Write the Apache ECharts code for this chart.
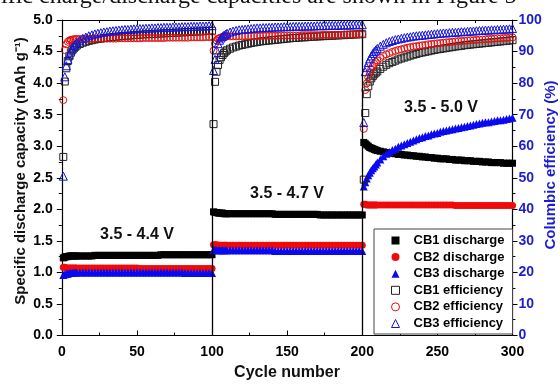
<!DOCTYPE html>
<html><head><meta charset="utf-8">
<script src="https://cdn.jsdelivr.net/npm/echarts@6/dist/echarts.min.js"></script>
<style>html,body{margin:0;padding:0;background:#fff}#c{width:560px;height:384px}</style>
</head><body><div id="c"></div>
<script>
// Cycle numbers within each 100-cycle voltage window, and the window offsets
const segCycles = [1,2,3,4,5,6,7,8,9,10,12,14,16,18,20,22,24,26,28,30,32,34,36,38,40,42,44,46,48,50,52,54,56,58,60,62,64,66,68,70,72,74,76,78,80,82,84,86,88,90,92,94,96,98,100];
const segOffsets = [0, 100, 200];
const xTicks = [0, 50, 100, 150, 200, 250, 300];
const windowLabels = ['3.5 - 4.4 V', '3.5 - 4.7 V', '3.5 - 5.0 V'];
const seriesNames = ['CB1 discharge','CB2 discharge','CB3 discharge','CB1 efficiency','CB2 efficiency','CB3 efficiency'];

// Specific discharge capacity (mAh g-1), 55 values per window
const cb1Discharge = [
 1.23,1.24,1.25,1.25,1.26,1.26,1.26,1.26,1.26,1.26,
 1.26,1.26,1.26,1.26,1.26,1.27,1.27,1.27,1.27,1.27,1.27,1.27,1.27,1.27,1.27,1.27,1.27,1.27,1.27,1.27,1.27,1.27,1.27,1.27,1.27,1.27,1.27,1.28,1.28,1.28,1.28,1.28,1.28,1.28,1.28,1.28,1.28,1.28,1.28,1.28,1.28,1.28,1.28,1.28,1.28,
 1.96,1.95,1.95,1.94,1.94,1.94,1.94,1.93,1.93,1.93,
 1.93,1.93,1.93,1.93,1.93,1.93,1.93,1.93,1.93,1.93,1.93,1.93,1.93,1.93,1.93,1.92,1.92,1.92,1.92,1.92,1.92,1.92,1.92,1.92,1.92,1.92,1.92,1.92,1.92,1.92,1.91,1.91,1.91,1.91,1.91,1.91,1.91,1.91,1.91,1.91,1.91,1.91,1.91,1.91,1.91,
 3.06,3.04,3.02,3.00,2.98,2.97,2.96,2.95,2.94,2.93,
 2.92,2.91,2.90,2.89,2.89,2.88,2.87,2.87,2.86,2.86,2.85,2.85,2.84,2.84,2.83,2.83,2.82,2.82,2.81,2.81,2.80,2.80,2.80,2.79,2.79,2.78,2.78,2.78,2.77,2.77,2.77,2.76,2.76,2.76,2.75,2.75,2.75,2.74,2.74,2.74,2.74,2.73,2.73,2.73,2.73
];
const cb2Discharge = [
 1.08,1.08,1.07,1.07,1.07,1.07,1.07,1.07,1.07,1.07,
 1.07,1.07,1.07,1.07,1.07,1.07,1.07,1.07,1.07,1.07,1.07,1.07,1.07,1.07,1.07,1.07,1.07,1.07,1.07,1.07,1.06,1.06,1.06,1.06,1.06,1.06,1.06,1.06,1.06,1.06,1.06,1.06,1.06,1.06,1.06,1.06,1.06,1.06,1.06,1.06,1.06,1.06,1.06,1.06,1.06,
 1.44,1.44,1.44,1.43,1.43,1.43,1.43,1.43,1.43,1.43,
 1.43,1.43,1.43,1.43,1.43,1.43,1.43,1.43,1.43,1.43,1.43,1.43,1.43,1.43,1.43,1.43,1.43,1.43,1.43,1.43,1.43,1.43,1.43,1.43,1.43,1.43,1.43,1.43,1.43,1.43,1.43,1.43,1.43,1.43,1.43,1.43,1.43,1.43,1.43,1.43,1.43,1.43,1.43,1.43,1.43,
 2.08,2.08,2.07,2.07,2.07,2.07,2.07,2.07,2.07,2.07,
 2.07,2.07,2.07,2.07,2.07,2.07,2.07,2.07,2.07,2.07,2.07,2.07,2.07,2.07,2.07,2.07,2.07,2.07,2.07,2.07,2.07,2.07,2.07,2.07,2.07,2.06,2.06,2.06,2.06,2.06,2.06,2.06,2.06,2.06,2.06,2.06,2.06,2.06,2.06,2.06,2.06,2.06,2.06,2.06,2.06
];
const cb3Discharge = [
 0.96,0.97,0.98,0.98,0.99,0.99,0.99,1.00,1.00,1.00,
 1.00,1.00,1.00,1.00,1.00,1.00,1.00,1.00,1.00,1.00,1.00,1.00,1.00,1.00,1.00,1.00,1.00,1.00,1.00,1.00,1.00,1.00,1.00,1.00,1.00,1.00,1.00,1.00,1.00,1.00,1.00,1.00,1.00,1.00,1.00,0.99,0.99,0.99,0.99,0.99,0.99,0.99,0.99,0.99,0.99,
 1.36,1.36,1.35,1.35,1.35,1.35,1.35,1.35,1.35,1.35,
 1.35,1.35,1.35,1.35,1.35,1.35,1.35,1.35,1.35,1.35,1.35,1.35,1.35,1.35,1.35,1.34,1.34,1.34,1.34,1.34,1.34,1.34,1.34,1.34,1.34,1.34,1.34,1.34,1.34,1.34,1.34,1.34,1.34,1.34,1.34,1.34,1.34,1.34,1.34,1.34,1.34,1.34,1.34,1.34,1.34,
 2.36,2.43,2.49,2.54,2.58,2.62,2.65,2.68,2.71,2.74,
 2.79,2.84,2.88,2.91,2.94,2.96,2.99,3.01,3.03,3.05,3.07,3.09,3.11,3.13,3.14,3.16,3.17,3.19,3.20,3.21,3.23,3.24,3.25,3.26,3.27,3.28,3.29,3.30,3.31,3.32,3.33,3.34,3.35,3.36,3.37,3.38,3.38,3.39,3.40,3.41,3.41,3.42,3.43,3.44,3.45
];
// Columbic efficiency (%), 55 values per window
const cb1Efficiency = [
 56.6,80.5,84.7,87.0,88.5,89.6,90.4,91.0,91.5,91.9,
 92.4,92.8,93.1,93.4,93.6,93.8,94.0,94.1,94.3,94.4,94.5,94.6,94.7,94.8,94.9,95.0,95.0,95.1,95.2,95.3,95.3,95.4,95.5,95.5,95.6,95.6,95.7,95.7,95.8,95.8,95.9,95.9,96.0,96.0,96.1,96.1,96.2,96.2,96.3,96.3,96.4,96.4,96.5,96.5,96.6,
 67.0,80.4,83.6,85.7,87.3,88.2,88.9,89.5,90.0,90.4,
 90.9,91.3,91.6,91.9,92.1,92.3,92.5,92.7,92.9,93.0,93.2,93.3,93.4,93.5,93.6,93.7,93.8,93.9,94.0,94.1,94.2,94.3,94.3,94.4,94.5,94.5,94.6,94.7,94.7,94.8,94.8,94.9,94.9,95.0,95.0,95.1,95.1,95.2,95.2,95.3,95.3,95.4,95.4,95.5,95.5,
 49.4,70.5,76.5,79.0,80.5,81.5,82.2,82.8,83.3,83.7,
 84.5,85.2,85.8,86.3,86.7,87.1,87.5,87.8,88.1,88.4,88.7,89.0,89.2,89.5,89.7,89.9,90.1,90.3,90.5,90.7,90.8,91.0,91.1,91.3,91.4,91.6,91.7,91.8,92.0,92.1,92.2,92.3,92.4,92.5,92.6,92.7,92.8,92.9,93.0,93.1,93.2,93.3,93.4,93.5,93.6
];
const cb2Efficiency = [
 74.6,90.5,92.3,93.1,93.5,93.7,93.8,93.9,93.9,94.0,
 94.0,94.0,94.0,94.0,94.0,94.1,94.1,94.1,94.1,94.1,94.1,94.1,94.1,94.2,94.2,94.2,94.2,94.2,94.2,94.2,94.2,94.3,94.3,94.3,94.3,94.3,94.3,94.3,94.3,94.4,94.4,94.4,94.4,94.4,94.4,94.4,94.4,94.5,94.5,94.5,94.5,94.5,94.6,94.6,94.6,
 90.3,92.5,93.5,94.0,94.3,94.5,94.6,94.7,94.7,94.8,
 94.8,94.8,94.8,94.8,94.8,94.9,94.9,94.9,94.9,94.9,94.9,95.0,95.0,95.0,95.0,95.0,95.0,95.1,95.1,95.1,95.1,95.1,95.1,95.1,95.2,95.2,95.2,95.2,95.2,95.2,95.2,95.3,95.3,95.3,95.3,95.3,95.3,95.3,95.4,95.4,95.4,95.4,95.5,95.5,95.5,
 65.5,77.8,79.9,81.8,83.3,84.5,85.4,86.1,86.7,87.2,
 88.0,88.6,89.1,89.5,89.9,90.2,90.5,90.7,91.0,91.2,91.4,91.6,91.7,91.9,92.0,92.1,92.3,92.4,92.5,92.6,92.7,92.8,92.9,93.0,93.1,93.2,93.3,93.3,93.4,93.5,93.6,93.6,93.7,93.8,93.8,93.9,94.0,94.0,94.1,94.2,94.2,94.3,94.3,94.4,94.5
];
const cb3Efficiency = [
 50.5,82.0,85.5,87.5,89.0,90.2,91.1,91.8,92.4,92.9,
 93.6,94.2,94.6,95.0,95.3,95.6,95.8,96.0,96.2,96.3,96.5,96.6,96.7,96.8,96.9,97.0,97.0,97.1,97.2,97.2,97.3,97.3,97.4,97.4,97.5,97.5,97.6,97.6,97.7,97.7,97.7,97.8,97.8,97.8,97.9,97.9,97.9,98.0,98.0,98.0,98.1,98.1,98.1,98.2,98.2,
 84.0,87.5,90.5,92.5,93.6,94.3,94.8,95.2,95.5,95.8,
 96.2,96.5,96.7,96.9,97.0,97.1,97.2,97.3,97.4,97.5,97.5,97.6,97.6,97.7,97.7,97.8,97.8,97.8,97.9,97.9,97.9,98.0,98.0,98.0,98.0,98.1,98.1,98.1,98.1,98.2,98.2,98.2,98.2,98.3,98.3,98.3,98.3,98.4,98.4,98.4,98.4,98.5,98.5,98.5,98.5,
 67.5,83.6,85.0,86.5,87.7,88.6,89.4,90.0,90.5,91.0,
 91.7,92.3,92.8,93.2,93.5,93.8,94.0,94.2,94.4,94.6,94.7,94.9,95.0,95.1,95.2,95.3,95.4,95.5,95.6,95.7,95.8,95.9,95.9,96.0,96.1,96.1,96.2,96.3,96.3,96.4,96.5,96.5,96.6,96.7,96.7,96.8,96.8,96.9,96.9,97.0,97.0,97.1,97.1,97.2,97.3
];

function toPoints(vals) {
  const out = [];
  segOffsets.forEach((off, s) => {
    segCycles.forEach((c, i) => out.push([off + c, vals[s * segCycles.length + i]]));
  });
  return out;
}

const BLACK = '#000000', RED = '#f00a0a', BLUE = '#0a0af0', AXBLUE = '#1c1cd0';
const tickFont = { fontFamily: 'Arial, Liberation Sans, sans-serif', fontWeight: 'bold', fontSize: 14 };

function filled(name, vals, symbol, color, size, yIndex) {
  return { name, type: 'scatter', yAxisIndex: yIndex, data: toPoints(vals), symbol, symbolSize: size,
    symbolKeepAspect: true,
    itemStyle: { color, opacity: 1 }, emphasis: { disabled: true }, silent: true };
}
function hollow(name, vals, symbol, color, size) {
  return { name, type: 'scatter', yAxisIndex: 1, data: toPoints(vals), symbol, symbolSize: size,
    symbolKeepAspect: true,
    itemStyle: { color: 'rgba(255,255,255,0)', borderColor: color, borderWidth: 1, opacity: 1 },
    emphasis: { disabled: true }, silent: true };
}

const series = [
  filled(seriesNames[0], cb1Discharge, 'rect', BLACK, 7, 0),
  filled(seriesNames[1], cb2Discharge, 'circle', RED, 7, 0),
  filled(seriesNames[2], cb3Discharge, 'triangle', BLUE, 8, 0),
  hollow(seriesNames[3], cb1Efficiency, 'rect', '#222', 7),
  hollow(seriesNames[4], cb2Efficiency, 'circle', '#e01010', 7),
  hollow(seriesNames[5], cb3Efficiency, 'triangle', '#1515d8', 8)
];
series[0].markLine = { silent: true, symbol: ['none','none'], label: { show: false },
  lineStyle: { color: '#000', width: 1.3, type: 'solid' },
  data: [{ xAxis: xTicks[2] }, { xAxis: xTicks[4] }] };

const legendIcons = {
  'CB1 discharge': { icon: 'rect', itemStyle: { color: BLACK } },
  'CB2 discharge': { icon: 'circle', itemStyle: { color: RED } },
  'CB3 discharge': { icon: 'triangle', itemStyle: { color: BLUE } },
  'CB1 efficiency': { icon: 'rect', itemStyle: { color: 'rgba(255,255,255,0)', borderColor: '#222', borderWidth: 1 } },
  'CB2 efficiency': { icon: 'circle', itemStyle: { color: 'rgba(255,255,255,0)', borderColor: '#e01010', borderWidth: 1 } },
  'CB3 efficiency': { icon: 'triangle', itemStyle: { color: 'rgba(255,255,255,0)', borderColor: '#1515d8', borderWidth: 1 } }
};

const chart = echarts.init(document.getElementById('c'), null, { renderer: 'canvas' });
chart.setOption({
  animation: false,
  backgroundColor: '#fff',
  grid: { left: 61.8, right: 47.5, top: 20, bottom: 48.5, containLabel: false },
  xAxis: [
    { type: 'value', position: 'bottom', min: xTicks[0], max: xTicks[xTicks.length - 1], interval: 50,
      axisLine: { show: true, onZero: false, lineStyle: { color: '#000', width: 1.2 } },
      axisTick: { show: true, inside: true, length: 5, lineStyle: { color: '#000' } },
      minorTick: { show: true, splitNumber: 2, length: 3, lineStyle: { color: '#000' } },
      splitLine: { show: false },
      axisLabel: Object.assign({ color: '#000', margin: 10 }, tickFont) },
    { type: 'value', position: 'top', min: xTicks[0], max: xTicks[xTicks.length - 1], interval: 50,
      axisLine: { show: true, onZero: false, lineStyle: { color: '#000', width: 1.2 } },
      axisTick: { show: true, inside: true, length: 5, lineStyle: { color: '#000' } },
      minorTick: { show: true, splitNumber: 2, length: 3, lineStyle: { color: '#000' } },
      splitLine: { show: false }, axisLabel: { show: false } }
  ],
  yAxis: [
    { type: 'value', position: 'left', min: 0, max: 5, interval: 0.5,
      axisLine: { show: true, onZero: false, lineStyle: { color: '#000', width: 1.2 } },
      axisTick: { show: true, inside: false, length: 5, lineStyle: { color: '#000' } },
      minorTick: { show: true, splitNumber: 2, length: 3, lineStyle: { color: '#000' } },
      splitLine: { show: false },
      axisLabel: Object.assign({ color: '#000', margin: 9, formatter: v => v.toFixed(1) }, tickFont) },
    { type: 'value', position: 'right', min: 0, max: 100, interval: 10,
      axisLine: { show: true, onZero: false, lineStyle: { color: '#000', width: 1.2 } },
      axisTick: { show: true, inside: false, length: 5, lineStyle: { color: '#000' } },
      minorTick: { show: true, splitNumber: 2, length: 3, lineStyle: { color: '#000' } },
      splitLine: { show: false },
      axisLabel: Object.assign({ color: AXBLUE, margin: 6 }, tickFont) }
  ],
  legend: {
    data: seriesNames.map(n => Object.assign({ name: n }, legendIcons[n])),
    orient: 'vertical', left: 374, top: 229,
    padding: [5, 8, 4, 17], itemWidth: 8, itemHeight: 8, itemGap: 3.6,
    borderColor: '#444', borderWidth: 1, backgroundColor: '#fff',
    selectedMode: false,
    textStyle: { color: '#000', fontFamily: 'Arial, Liberation Sans, sans-serif', fontWeight: 'bold', fontSize: 13, lineHeight: 13, padding: [0, 0, 0, 9] }
  },
  graphic: [
    { type: 'text', x: 1, y: 9, silent: true,
      style: { text: 'ific charge/discharge capacities are shown in Figure 5', font: '24px "Liberation Serif", serif', fill: '#111', align: 'left', verticalAlign: 'bottom' } },
    { type: 'text', x: 137, y: 235, silent: true,
      style: { text: windowLabels[0], font: 'bold 16px Arial, "Liberation Sans", sans-serif', fill: '#111', align: 'center', verticalAlign: 'middle' } },
    { type: 'text', x: 287, y: 194, silent: true,
      style: { text: windowLabels[1], font: 'bold 16px Arial, "Liberation Sans", sans-serif', fill: '#111', align: 'center', verticalAlign: 'middle' } },
    { type: 'text', x: 441, y: 108, silent: true,
      style: { text: windowLabels[2], font: 'bold 16px Arial, "Liberation Sans", sans-serif', fill: '#111', align: 'center', verticalAlign: 'middle' } },
    { type: 'text', x: 21, y: 171, rotation: Math.PI / 2, silent: true,
      style: { text: 'Specific discharge capacity (mAh g\u207B\u00B9)', font: 'bold 15px Arial, "Liberation Sans", sans-serif', fill: '#111', align: 'center', verticalAlign: 'middle' } },
    { type: 'text', x: 551, y: 165, rotation: Math.PI / 2, silent: true,
      style: { text: 'Columbic efficiency (%)', font: 'bold 15px Arial, "Liberation Sans", sans-serif', fill: AXBLUE, align: 'center', verticalAlign: 'middle' } },
    { type: 'text', x: 287, y: 373, silent: true,
      style: { text: 'Cycle number', font: 'bold 16px Arial, "Liberation Sans", sans-serif', fill: '#111', align: 'center', verticalAlign: 'middle' } }
  ],
  series
});
</script></body></html>
